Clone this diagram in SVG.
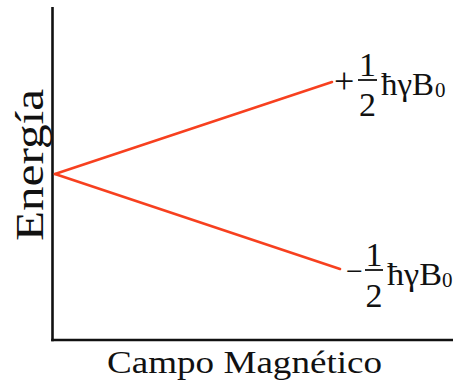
<svg xmlns="http://www.w3.org/2000/svg" width="455" height="389" viewBox="0 0 455 389">
<style>
.ax{stroke:#111;stroke-width:2.6;fill:none}
.lvl{stroke:#f7401f;stroke-width:2.6;fill:none;stroke-linecap:round}
.bar{stroke:#111;stroke-width:1.8}
text{font-family:"Liberation Serif","Times New Roman",serif;fill:#111}
</style>
<rect width="455" height="389" fill="#fff"/>
<g id="axes">
<line class="ax" x1="52.5" y1="7" x2="52.5" y2="341.3"/>
<line class="ax" x1="51.2" y1="340" x2="453" y2="340"/>
</g>
<g id="connectors">
<line class="lvl" x1="55" y1="174" x2="332" y2="82"/>
<line class="lvl" x1="55" y1="174" x2="340" y2="269"/>
</g>
<g id="label-y">
<text font-size="40" transform="translate(43,241) rotate(-90)" textLength="152" lengthAdjust="spacingAndGlyphs">Energía</text>
</g>
<g id="label-x">
<text font-size="32" x="107" y="373" textLength="275" lengthAdjust="spacingAndGlyphs">Campo Magnético</text>
</g>
<g id="upper-level">
<text font-size="36" x="334" y="93">+</text>
<text font-size="34" text-anchor="middle" x="367.5" y="76">1</text>
<line class="bar" x1="358" y1="80" x2="377" y2="80"/>
<text font-size="34" text-anchor="middle" x="367.5" y="116">2</text>
<text font-size="32" x="381" y="95" textLength="53" lengthAdjust="spacingAndGlyphs">ħγB</text>
<text font-size="21" x="435" y="97">0</text>
</g>
<g id="lower-level">
<text font-size="30" x="346" y="281">−</text>
<text font-size="34" text-anchor="middle" x="374" y="266">1</text>
<line class="bar" x1="365" y1="270" x2="383" y2="270"/>
<text font-size="34" text-anchor="middle" x="374" y="307">2</text>
<text font-size="32" x="387" y="285" textLength="55" lengthAdjust="spacingAndGlyphs">ħγB</text>
<text font-size="21" x="442" y="287">0</text>
</g>
</svg>
